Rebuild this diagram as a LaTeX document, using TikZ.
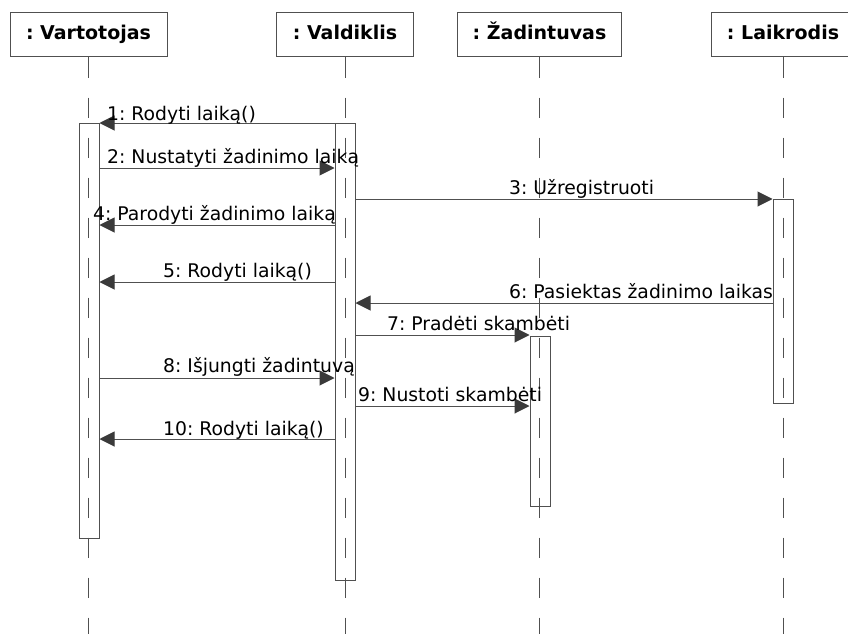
\documentclass[tikz,border=0pt]{standalone}
\usepackage{fontspec}
\setmainfont{DejaVu Sans}
\frenchspacing
\usetikzlibrary{arrows.meta}
\definecolor{linegray}{HTML}{505050}
\definecolor{tipgray}{HTML}{3A3A3A}
\tikzset{
  hdr/.style={draw=linegray, line width=1pt, inner sep=0pt, minimum height=44pt,
    text height=14pt, text depth=4pt, font=\fontsize{19pt}{21pt}\selectfont\bfseries},
  life/.style={draw=linegray, line width=1pt, dash pattern=on 20pt off 20pt},
  actbox/.style={draw=linegray, line width=1pt, inner sep=0pt, minimum width=20pt},
  msg/.style={draw=linegray, line width=1pt,
    -{Triangle[length=15pt, width=15pt, color=tipgray, fill=tipgray]}},
  lbl/.style={anchor=base west, inner sep=0pt, text=black,
    font=\fontsize{18.8pt}{21pt}\selectfont}
}
\begin{document}
\begin{tikzpicture}[x=1pt, y=-1pt]
\useasboundingbox (0,0) rectangle (848,634);
\fill[white] (0,0) rectangle (848,634);

% object headers
\node[hdr, minimum width=157pt] (hU) at (88.5,35) {: Vartotojas};
\node[hdr, minimum width=137pt] (hV) at (345,35) {: Valdiklis};
\node[hdr, minimum width=164pt] (hZ) at (539.5,35) {: Žadintuvas};
\node[hdr, minimum width=144pt] (hL) at (783,35) {: Laikrodis};

% lifelines
\foreach \h in {hU,hV,hZ,hL}
  \draw[life] (\h.south) -- (\h.south |- 0,634);

% activation bars
\node[actbox, minimum height=415pt] (aU) at (89,330.5) {};
\node[actbox, minimum height=457pt] (aV) at (345,351.5) {};
\node[actbox, minimum height=170pt] (aZ) at (540,421) {};
\node[actbox, minimum height=204pt] (aL) at (783,301) {};

% messages
\draw[msg] (aV.west |- 0,123) -- (aU.east |- 0,123);
\node[lbl] (l1) at (107,120) {1: Rodyti laiką()};

\draw[msg] (aU.east |- 0,168) -- (aV.west |- 0,168);
\node[lbl] (l2) at (107,163) {2: Nustatyti žadinimo laiką};

\draw[msg] (aV.east |- 0,199) -- (aL.west |- 0,199);
\node[lbl] (l3) at (509,194) {3: Užregistruoti};

\draw[msg] (aV.west |- 0,225) -- (aU.east |- 0,225);
\node[lbl] (l4) at (93,220) {4: Parodyti žadinimo laiką};

\draw[msg] (aV.west |- 0,282) -- (aU.east |- 0,282);
\node[lbl] (l5) at (163,277) {5: Rodyti laiką()};

\draw[msg] (aL.west |- 0,303) -- (aV.east |- 0,303);
\node[lbl] (l6) at (509,298) {6: Pasiektas žadinimo laikas};

\draw[msg] (aV.east |- 0,335) -- (aZ.west |- 0,335);
\node[lbl] (l7) at (387,330) {7: Pradėti skambėti};

\draw[msg] (aU.east |- 0,378) -- (aV.west |- 0,378);
\node[lbl] (l8) at (163,372) {8: Išjungti žadintuvą};

\draw[msg] (aV.east |- 0,406) -- (aZ.west |- 0,406);
\node[lbl] (l9) at (358,401) {9: Nustoti skambėti};

\draw[msg] (aV.west |- 0,439) -- (aU.east |- 0,439);
\node[lbl] (l10) at (163,435) {10: Rodyti laiką()};
\end{tikzpicture}
\end{document}
